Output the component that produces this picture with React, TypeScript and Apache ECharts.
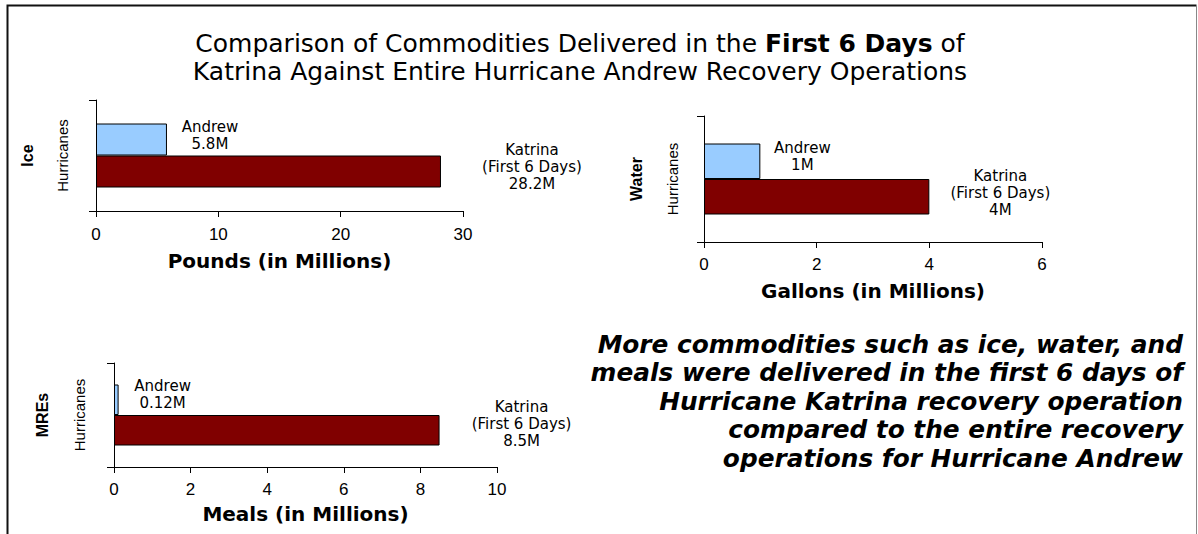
import React, { useEffect, useRef } from "react";
import * as echarts from "echarts";

// ---- data ----
const hurricanes = ["Andrew", "Katrina"];
const katrinaNote = "(First 6 Days)";
const categories = ["Hurricanes"];
const commodityNames = ["Ice", "Water", "MREs"];
const axisTitles = ["Pounds (in Millions)", "Gallons (in Millions)", "Meals (in Millions)"];
const iceValues = [5.8, 28.2];
const waterValues = [1, 4];
const mreValues = [0.12, 8.5];
const axisMax = [30, 6, 10];
const axisInterval = [10, 2, 2];
const titleLine1 = ["Comparison of Commodities Delivered in the ", "First 6 Days", " of"];
const titleLine2 = "Katrina Against Entire Hurricane Andrew Recovery Operations";
const noteLines = [
  "More commodities such as ice, water, and",
  "meals were delivered in the first 6 days of",
  "Hurricane Katrina recovery operation",
  "compared to the entire recovery",
  "operations for Hurricane Andrew",
];

// ---- layout / style ----
const panels = [
  { grid: { left: 96, top: 100, width: 367, height: 111 }, barWidth: 32, tickMargin: 15, nameGapX: 40, nameGapY: 61, catMargin: 26, andrewDist: 43, katrinaDist: 91, andrewDy: -4.5, katrinaDy: -4.5 },
  { grid: { left: 704, top: 116, width: 338, height: 126 }, barWidth: 35.5, tickMargin: 14, nameGapX: 39, nameGapY: 60, catMargin: 24, andrewDist: 42, katrinaDist: 71, andrewDy: -4.5, katrinaDy: -3.5 },
  { grid: { left: 114, top: 363, width: 383, height: 104 }, barWidth: 30.5, tickMargin: 14, nameGapX: 37, nameGapY: 64, catMargin: 27, andrewDist: 44, katrinaDist: 82, andrewDy: -5, katrinaDy: -6 },
];
const colors = ["#99CCFF", "#800000"];
const SANS = "DejaVu Sans";
const ARIAL = "Liberation Sans";

export default function App() {
  const ref = useRef<HTMLDivElement>(null);
  useEffect(() => {
    if (!ref.current) return;
    const chart = echarts.init(ref.current, undefined, { renderer: "svg" });
    const valueSets = [iceValues, waterValues, mreValues];

    const grids = panels.map((p) => ({ ...p.grid, containLabel: false }));
    const xAxes = panels.map((p, i) => ({
      type: "value",
      gridIndex: i,
      min: 0,
      max: axisMax[i],
      interval: axisInterval[i],
      name: axisTitles[i],
      nameLocation: "middle",
      nameGap: p.nameGapX,
      nameTextStyle: { fontFamily: SANS, fontWeight: "bold", fontSize: 20, color: "#000" },
      axisLine: { show: true, lineStyle: { color: "#000", width: 1 } },
      axisTick: { show: true, length: 6, lineStyle: { color: "#000" } },
      splitLine: { show: false },
      axisLabel: { fontFamily: ARIAL, fontSize: 17, color: "#000", margin: p.tickMargin },
    }));
    const yAxes = panels.map((p, i) => ({
      type: "category",
      gridIndex: i,
      data: categories,
      name: commodityNames[i],
      nameLocation: "middle",
      nameRotate: 90,
      nameGap: p.nameGapY,
      nameTextStyle: { fontFamily: ARIAL, fontWeight: "bold", fontSize: 16, color: "#000" },
      axisLine: { show: true, lineStyle: { color: "#000", width: 1 } },
      axisTick: { show: true, length: 7, lineStyle: { color: "#000" } },
      axisLabel: { rotate: 90, fontFamily: ARIAL, fontSize: 15, color: "#000", margin: p.catMargin },
    }));

    const series: any[] = [];
    panels.forEach((p, i) => {
      hurricanes.forEach((h, j) => {
        series.push({
          type: "bar",
          name: h,
          xAxisIndex: i,
          yAxisIndex: i,
          data: [valueSets[i][j]],
          barWidth: p.barWidth,
          barGap: "0%",
          itemStyle: { color: colors[j], borderColor: "#000", borderWidth: 1 },
          label: {
            show: true,
            position: "right",
            distance: j === 0 ? p.andrewDist : p.katrinaDist,
            offset: [0, j === 0 ? p.andrewDy : p.katrinaDy],
            align: "center",
            verticalAlign: "middle",
            fontFamily: SANS,
            fontSize: 15,
            lineHeight: 17,
            color: "#000",
            formatter: (prm: any) =>
              j === 0
                ? `${prm.seriesName}\n${prm.value}M`
                : `${prm.seriesName}\n${katrinaNote}\n${prm.value}M`,
          },
        });
      });
    });

    const option: any = {
      animation: false,
      backgroundColor: "#fff",
      title: {
        text: `{n|${titleLine1[0]}}{b|${titleLine1[1]}}{n|${titleLine1[2]}}\n{n|${titleLine2}}`,
        left: 580,
        top: 29,
        textAlign: "center",
        padding: 0,
        textStyle: {
          rich: {
            n: { fontFamily: SANS, fontSize: 25, fontWeight: "normal", color: "#000", lineHeight: 28.5 },
            b: { fontFamily: SANS, fontSize: 25, fontWeight: "bold", color: "#000", lineHeight: 28.5 },
          },
        },
      },
      grid: grids,
      xAxis: xAxes,
      yAxis: yAxes,
      series,
      graphic: [
        {
          type: "polyline",
          silent: true,
          shape: { points: [[7.5, 534], [7.5, 5.5], [1196.5, 5.5]] },
          style: { stroke: "#111", lineWidth: 2, fill: null },
        },
        {
          type: "line",
          silent: true,
          shape: { x1: 1196.5, y1: 5, x2: 1196.5, y2: 534 },
          style: { stroke: "#888", lineWidth: 1 },
        },
        {
          type: "text",
          silent: true,
          x: 1183,
          y: 330,
          style: {
            text: noteLines.join("\n"),
            align: "right",
            verticalAlign: "top",
            fontFamily: SANS,
            fontSize: 24.8,
            fontWeight: "bold",
            fontStyle: "italic",
            lineHeight: 28.5,
            fill: "#000",
          },
        },
      ],
    };
    chart.setOption(option);
    return () => chart.dispose();
  }, []);
  return (
    <div
      ref={ref}
      style={{ position: "absolute", left: 0, top: 0, width: 1198, height: 534, background: "#fff" }}
    />
  );
}
